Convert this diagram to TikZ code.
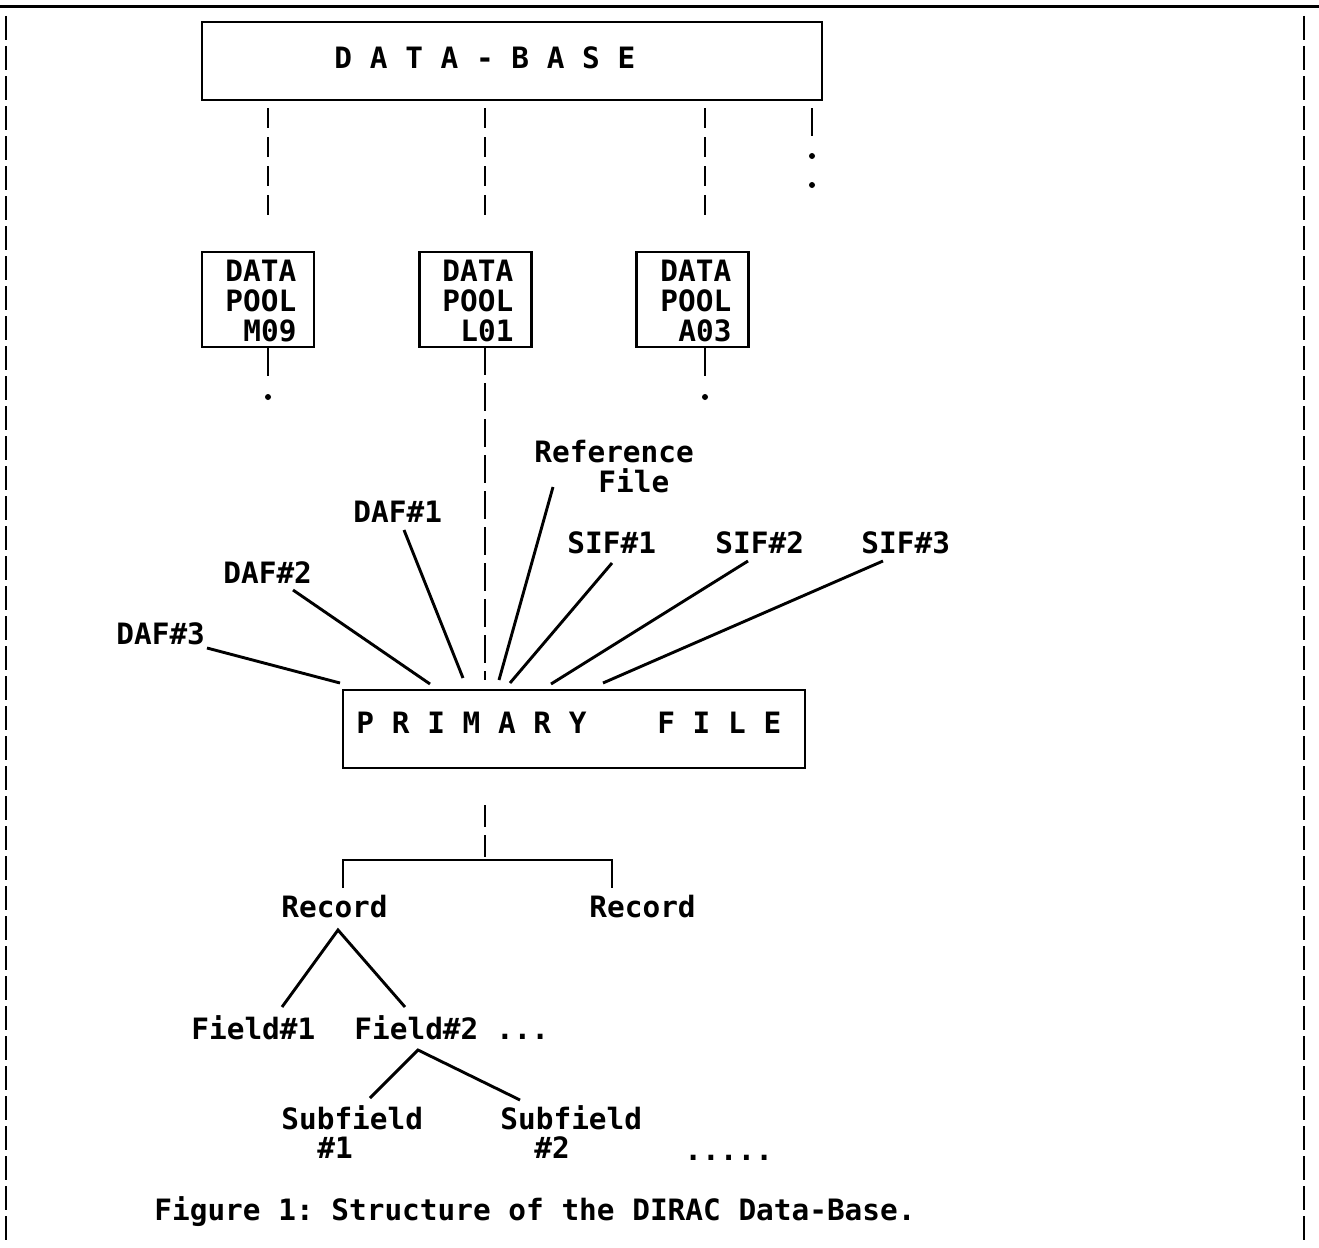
\documentclass[tikz,border=0pt]{standalone}
\usepackage{fontspec}
\setmonofont{DejaVu Sans Mono}
\begin{document}
\begin{tikzpicture}[x=1pt,y=-1pt, line width=2.9pt,
  t/.style={inner sep=0pt, anchor=base west, font=\ttfamily\bfseries\fontsize{29.4}{30}\selectfont},
  boxs/.style={draw, line width=2.8pt, inner sep=0pt},
  dsh/.style={dash pattern=on 20pt off 9pt},
  dotf/.style={fill, circle, inner sep=0pt, minimum size=6pt}
]
\useasboundingbox (0,0) rectangle (1319,1247);
% frame
\draw[line width=3pt] (0,7) -- (1319,7);
\draw[line width=2.5pt, dash pattern=on 24pt off 6pt] (6,16) -- (6,1242);
\draw[line width=2.5pt, dash pattern=on 24pt off 6pt] (1304,16) -- (1304,1242);

% data-base
\node[boxs, minimum width=620pt, minimum height=78pt] (db) at (512,61) {};
\node[t] (dbt) at (333,68) {D A T A - B A S E};

% data pools
\node[boxs, minimum width=112pt, minimum height=95pt] (pm) at (258,299.5) {};
\node[boxs, minimum width=112pt, minimum height=95pt] (pl) at (475.5,299.5) {};
\node[boxs, minimum width=112pt, minimum height=95pt] (pa) at (692.5,299.5) {};
\node[t] (pm1) at (224,281) {DATA};
\node[t] (pm2) at (224,311) {POOL};
\node[t] (pm3) at (242,341) {M09};
\node[t] (pl1) at (441,281) {DATA};
\node[t] (pl2) at (441,311) {POOL};
\node[t] (pl3) at (459,341) {L01};
\node[t] (pa1) at (659,281) {DATA};
\node[t] (pa2) at (659,311) {POOL};
\node[t] (pa3) at (677,341) {A03};

% connectors db -> pools
\coordinate (a1) at (268,108); \coordinate (a2) at (268,222);
\coordinate (b1) at (485,108); \coordinate (b2) at (485,222);
\coordinate (c1) at (705,108); \coordinate (c2) at (705,222);
\coordinate (e1) at (812,108); \coordinate (e2) at (812,136);
\draw[dsh] (a1) -- (a2);
\draw[dsh] (b1) -- (b2);
\draw[dsh] (c1) -- (c2);
\draw (e1) -- (e2);
\node[dotf] (ed1) at (812,156) {};
\node[dotf] (ed2) at (812,185) {};

% below pools
\coordinate (m1) at (268,347); \coordinate (m2) at (268,376);
\coordinate (n1) at (705,347); \coordinate (n2) at (705,376);
\draw (m1) -- (m2);
\draw (n1) -- (n2);
\node[dotf] (md) at (268,397) {};
\node[dotf] (nd) at (705,397) {};
\coordinate (l1) at (485,347); \coordinate (l2) at (485,680);
\draw[dash pattern=on 28pt off 8pt] (l1) -- (l2);

% labels
\node[t] (ref1) at (533,462) {Reference};
\node[t] (ref2) at (597,492) {File};
\node[t] (daf1) at (352,522) {DAF\#1};
\node[t] (daf2) at (222,583) {DAF\#2};
\node[t] (daf3) at (115,644) {DAF\#3};
\node[t] (sif1) at (566,553) {SIF\#1};
\node[t] (sif2) at (714,553) {SIF\#2};
\node[t] (sif3) at (860,553) {SIF\#3};

% primary file
\node[boxs, minimum width=462pt, minimum height=78pt] (pf) at (574,729) {};
\node[t] (pft) at (355,733) {P R I M A R Y~~~~F I L E};

% radiating connectors
\coordinate (r3a) at (207,648); \coordinate (r3b) at (340,683);
\coordinate (r2a) at (293,590); \coordinate (r2b) at (430,684);
\coordinate (r1a) at (404,530); \coordinate (r1b) at (463,678);
\coordinate (rfa) at (553,487); \coordinate (rfb) at (499,680);
\coordinate (s1a) at (612,563); \coordinate (s1b) at (510,683);
\coordinate (s2a) at (748,561); \coordinate (s2b) at (551,684);
\coordinate (s3a) at (883,561); \coordinate (s3b) at (603,683);
\draw (r3a) -- (r3b);
\draw (r2a) -- (r2b);
\draw (r1a) -- (r1b);
\draw (rfa) -- (rfb);
\draw (s1a) -- (s1b);
\draw (s2a) -- (s2b);
\draw (s3a) -- (s3b);

% records
\coordinate (p1) at (485,805); \coordinate (p2) at (485,860);
\draw[dash pattern=on 22pt off 8pt] (p1) -- (p2);
\coordinate (q1) at (343,888); \coordinate (q2) at (343,860);
\coordinate (q3) at (612,860); \coordinate (q4) at (612,888);
\draw (q1) -- (q2) -- (q3) -- (q4);
\node[t] (rec1) at (280,917) {Record};
\node[t] (rec2) at (588,917) {Record};

% fields
\coordinate (f0) at (338,930);
\coordinate (f1) at (282,1007); \coordinate (f2) at (405,1007);
\draw (f1) -- (f0) -- (f2);
\node[t] (fld1) at (190,1039) {Field\#1};
\node[t] (fld2) at (353,1039) {Field\#2 ...};

% subfields
\coordinate (g0) at (418,1050);
\coordinate (g1) at (370,1098); \coordinate (g2) at (520,1100);
\draw (g1) -- (g0) -- (g2);
\node[t] (sub1) at (280,1129) {Subfield};
\node[t] (sub1n) at (316,1158) {\#1};
\node[t] (sub2) at (499,1129) {Subfield};
\node[t] (sub2n) at (533,1158) {\#2};
\node[t] (dots) at (683,1160) {.....};

% caption
\node[t] (cap) at (153,1220) {Figure 1: Structure of the DIRAC Data-Base.};
\end{tikzpicture}
\end{document}
